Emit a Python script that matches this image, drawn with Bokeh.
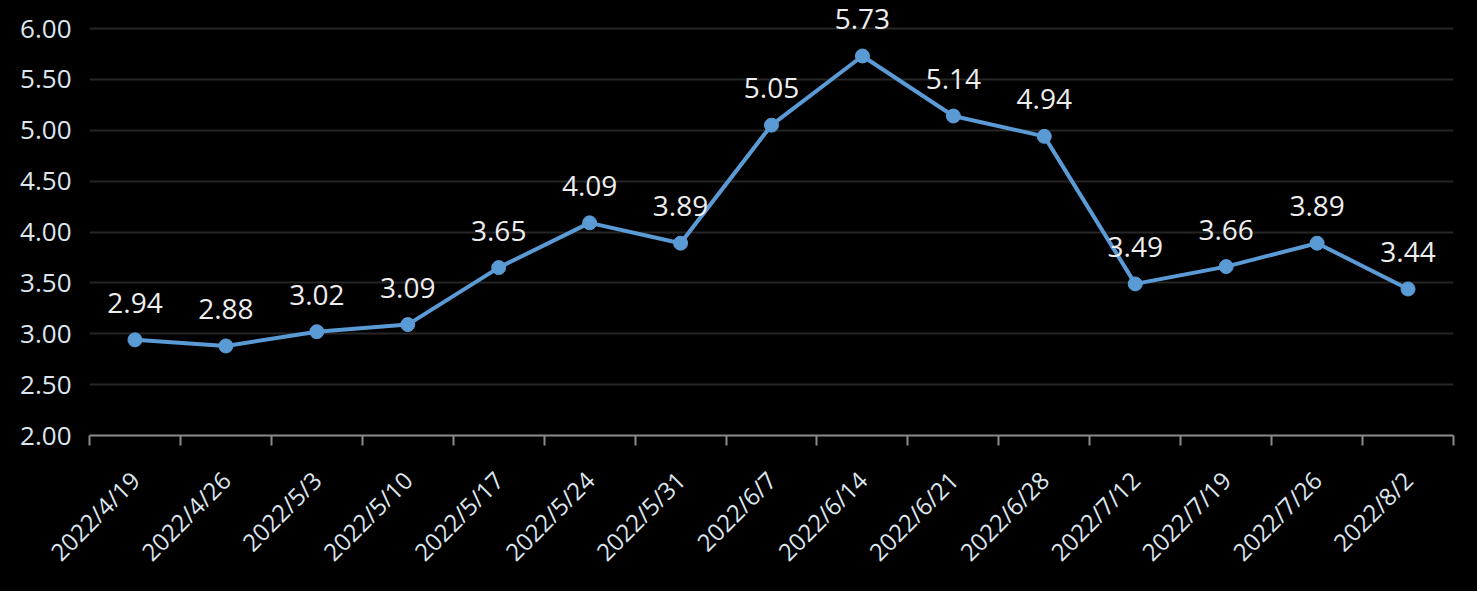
from bokeh.plotting import figure
from bokeh.models import ColumnDataSource, FixedTicker, Range1d, LabelSet
from bokeh.embed import file_html
from bokeh.resources import INLINE
from bokeh.core.properties import value
import math

dates = ["2022/4/19", "2022/4/26", "2022/5/3", "2022/5/10", "2022/5/17", "2022/5/24",
         "2022/5/31", "2022/6/7", "2022/6/14", "2022/6/21", "2022/6/28", "2022/7/12",
         "2022/7/19", "2022/7/26", "2022/8/2"]
values = [2.94, 2.88, 3.02, 3.09, 3.65, 4.09, 3.89, 5.05, 5.73, 5.14, 4.94, 3.49,
          3.66, 3.89, 3.44]
y_ticks = [2.0, 2.5, 3.0, 3.5, 4.0, 4.5, 5.0, 5.5, 6.0]

n = len(dates)
xs = [i + 0.5 for i in range(n)]
src = ColumnDataSource(dict(x=xs, y=values, lbl=[f"{v:.2f}" for v in values]))

FONT = "Open Sans"
BLUE = "#5b9bd5"

px_per_unit = 407 / 4.0
extra_px = 25
y_top = 6.0 + extra_px / px_per_unit

p = figure(frame_width=1364, frame_height=407 + extra_px, min_border_left=89,
           min_border_top=28 - extra_px, min_border_right=22, min_border_bottom=154,
           x_range=Range1d(0, n), y_range=Range1d(2.0, y_top),
           output_backend="svg", toolbar_location=None)
p.background_fill_color = "black"
p.border_fill_color = "black"
p.outline_line_color = None

p.line("x", "y", source=src, line_color=BLUE, line_width=4)
p.scatter("x", "y", source=src, size=14, fill_color=BLUE, line_color=BLUE)

labels = LabelSet(x="x", y="y", text="lbl", source=src, text_align="center",
                  text_baseline="bottom", y_offset=27, text_color="#eeeeee",
                  text_font=value(FONT), text_font_size="28px")
p.add_layout(labels)

# x axis
p.xaxis.bounds = (0, n)
p.xaxis.ticker = FixedTicker(ticks=xs, minor_ticks=list(range(n + 1)))
p.xaxis.major_label_overrides = {x: d for x, d in zip(xs, dates)}
p.xaxis.major_label_orientation = math.pi / 4
p.xaxis.major_tick_line_color = None
p.xaxis.minor_tick_line_color = "#8c8c8c"
p.xaxis.minor_tick_line_width = 2
p.xaxis.minor_tick_out = 10
p.xaxis.minor_tick_in = 0
p.xaxis.axis_line_color = "#8c8c8c"
p.xaxis.axis_line_width = 2
p.xaxis.major_label_text_color = "#dde6ee"
p.xaxis.major_label_text_font = FONT
p.xaxis.major_label_text_font_size = "24px"
p.xaxis.major_label_standoff = 30

# y axis
p.yaxis.ticker = FixedTicker(ticks=y_ticks)
p.yaxis.major_label_overrides = {t: f"{t:.2f}" for t in y_ticks}
p.yaxis.axis_line_color = None
p.yaxis.major_tick_line_color = None
p.yaxis.minor_tick_line_color = None
p.yaxis.major_tick_out = 0
p.yaxis.major_tick_in = 0
p.yaxis.major_label_standoff = 18
p.yaxis.major_label_text_color = "#dde6ee"
p.yaxis.major_label_text_font = FONT
p.yaxis.major_label_text_font_size = "26px"

p.xgrid.grid_line_color = None
p.ygrid.grid_line_color = "#262626"
p.ygrid.grid_line_width = 2
p.ygrid.ticker = FixedTicker(ticks=y_ticks[1:])

html = file_html(p, INLINE)
html = html.replace("<head>", "<head><style>html,body{background:#000;}</style>", 1)
open("out.html", "w").write(html)
